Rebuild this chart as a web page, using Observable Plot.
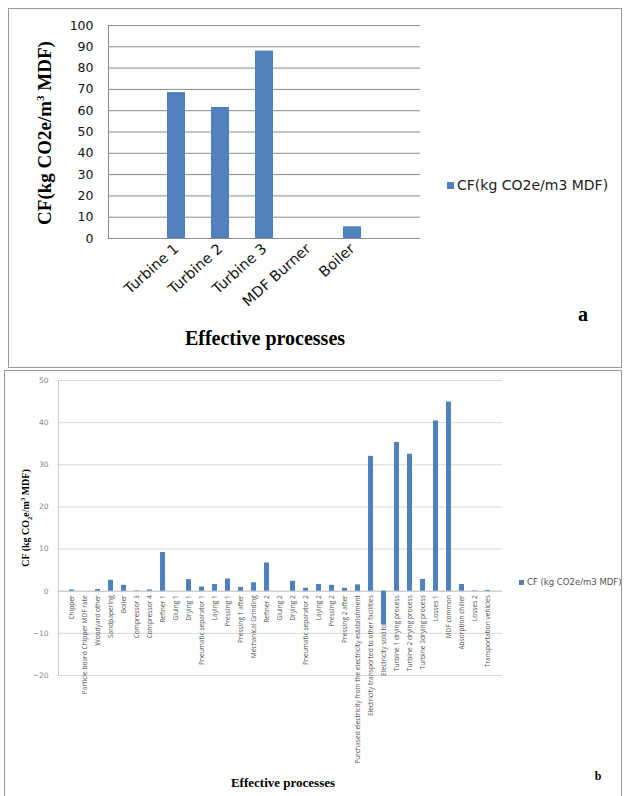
<!DOCTYPE html>
<html>
<head>
<meta charset="utf-8">
<script src="https://cdn.jsdelivr.net/npm/d3@7"></script>
<script src="https://cdn.jsdelivr.net/npm/@observablehq/plot@0.6"></script>
<style>
  html, body { margin: 0; padding: 0; background: #fff; }
  body { width: 625px; height: 796px; position: relative; overflow: hidden; font-family: "DejaVu Sans", sans-serif; }
  .abs { position: absolute; }
  .box { position: absolute; border: 1px solid #9a9a9a; box-sizing: border-box; }
  .serifb { font-family: "Liberation Serif", "Times New Roman", serif; font-weight: bold; color: #000; white-space: nowrap; }
  .rot { transform: translate(-50%, -50%) rotate(-90deg); transform-origin: center; }
  .legend { display: flex; align-items: center; white-space: nowrap; }
  .legend .sw { background: #4F81BD; display: inline-block; }
</style>
</head>
<body>
<div id="panelA" class="box" style="left:8px; top:8px; width:614px; height:360px;"></div>
<div id="panelB" class="box" style="left:4px; top:370px; width:618px; height:440px;"></div>
<div id="chartA" class="abs" style="left:0; top:0;"></div>
<div id="chartB" class="abs" style="left:0; top:370px;"></div>

<div class="abs serifb rot" style="left:45px; top:133px; font-size:19px;">CF(kg CO2e/m<sup style="font-size:11px;">3</sup> MDF)</div>
<div class="abs serifb" style="left:265px; top:338px; transform:translate(-50%,-50%); font-size:20px;">Effective processes</div>
<div class="abs serifb" style="left:583px; top:314px; transform:translate(-50%,-50%); font-size:20px;">a</div>
<div class="abs legend" style="left:447px; top:177px; font-size:14px; color:#222;"><span class="sw" style="width:7px;height:7px;margin-right:3px;"></span>CF(kg CO2e/m3 MDF)</div>

<div class="abs serifb rot" style="left:26px; top:518px; font-size:10px;">CF (kg CO<sub style="font-size:6.5px;">2</sub>e/m<sup style="font-size:6.5px;">3</sup> MDF)</div>
<div class="abs serifb" style="left:283px; top:783px; transform:translate(-50%,-50%); font-size:13px;">Effective processes</div>
<div class="abs serifb" style="left:598px; top:776px; transform:translate(-50%,-50%); font-size:12px;">b</div>
<div class="abs legend" style="left:519px; top:577px; font-size:8.5px; color:#555;"><span class="sw" style="width:5px;height:5px;margin-right:3px;"></span>CF (kg CO2e/m3 MDF)</div>

<script>
// ---- Panel a data ----
const processesA = ["Turbine 1", "Turbine 2", "Turbine 3", "MDF Burner", "Boiler"];
const cfA = [68.5, 61.5, 88, 0, 5.5];
const yTicksA = [0, 10, 20, 30, 40, 50, 60, 70, 80, 90, 100];

// ---- Panel b data ----
const processesB = [
  "Chipper", "Particle board Chipper MDF rate", "Woodyard other", "Sandpapering", "Boiler",
  "Compressor 3", "Compressor 4", "Refiner 1", "Gluing 1", "Drying 1",
  "Pneumatic separator 1", "Laying 1", "Pressing 1", "Pressing 1 after", "Mechanical Grinding",
  "Refiner 2", "Gluing 2", "Drying 2", "Pneumatic separator 2", "Laying 2",
  "Pressing 2", "Pressing 2 after", "Purchased electricity from the electricity establishment",
  "Electricity transported to other facilities", "Electricity sold to the state",
  "Turbine 1 drying process", "Turbine 2 drying process", "Turbine 3drying process",
  "Losses 1", "MDF common", "Absorption chiller", "Losses 2", "Transportation vehicles"
];
const cfB = [
  0.3, 0, 0.4, 2.6, 1.4,
  0.1, 0.3, 9.2, 0, 2.75,
  1.0, 1.6, 2.9, 0.9, 2.0,
  6.7, 0, 2.35, 0.7, 1.6,
  1.4, 0.7, 1.5,
  32.0, -8,
  35.3, 32.5, 2.8,
  40.4, 44.9, 1.6, 0.1, 0.2
];
const yTicksB = [-20, -10, 0, 10, 20, 30, 40, 50];

const blue = "#4F81BD";

const dataA = processesA.map((p, i) => ({process: p, cf: cfA[i]}));
const dataB = processesB.map((p, i) => ({process: p, cf: cfB[i]}));

const chartA = Plot.plot({
  width: 625,
  height: 370,
  marginLeft: 108,
  marginRight: 205,
  marginTop: 25,
  marginBottom: 132,
  style: {fontFamily: "DejaVu Sans, sans-serif", fontSize: "12.5px", color: "#111", background: "transparent", overflow: "visible"},
  x: {domain: processesA, paddingInner: 0.6, paddingOuter: 1.3, label: null, tickRotate: -42, tickSize: 0, tickPadding: 8},
  y: {domain: [0, 100], ticks: yTicksA, label: null, tickSize: 0, tickPadding: 15},
  marks: [
    Plot.gridY(yTicksA, {stroke: "#8a8a8a", strokeOpacity: 1, strokeWidth: 1}),
    Plot.frame({anchor: "left", stroke: "#8a8a8a"}),
    Plot.axisX({fontSize: 14.5, tickRotate: -42, tickSize: 0, tickPadding: 8, label: null}),
    Plot.barY(dataA, {x: "process", y: "cf", fill: blue})
  ]
});
document.getElementById("chartA").appendChild(chartA);

const chartB = Plot.plot({
  width: 625,
  height: 426,
  marginLeft: 58,
  marginRight: 123,
  marginTop: 10,
  marginBottom: 121,
  style: {fontFamily: "DejaVu Sans, sans-serif", fontSize: "7.5px", color: "#888", background: "transparent", overflow: "visible"},
  x: {domain: processesB, padding: 0.6, axis: null},
  y: {domain: [-20, 50], ticks: yTicksB, label: null, tickSize: 0, tickPadding: 10},
  marks: [
    Plot.gridY(yTicksB, {stroke: "#d9d9d9", strokeOpacity: 1}),
    Plot.frame({anchor: "left", stroke: "#c8c8c8"}),
    Plot.ruleY([0], {stroke: "#c8c8c8"}),
    Plot.text(dataB, {
      x: "process", y: () => 0, text: "process",
      rotate: -90, textAnchor: "end", dy: 4,
      fontSize: 6.6, fill: "#555", fontFamily: "Liberation Sans Narrow, Open Sans, sans-serif"
    }),
    Plot.barY(dataB, {x: "process", y: "cf", fill: blue})
  ]
});
document.getElementById("chartB").appendChild(chartB);
</script>
</body>
</html>
